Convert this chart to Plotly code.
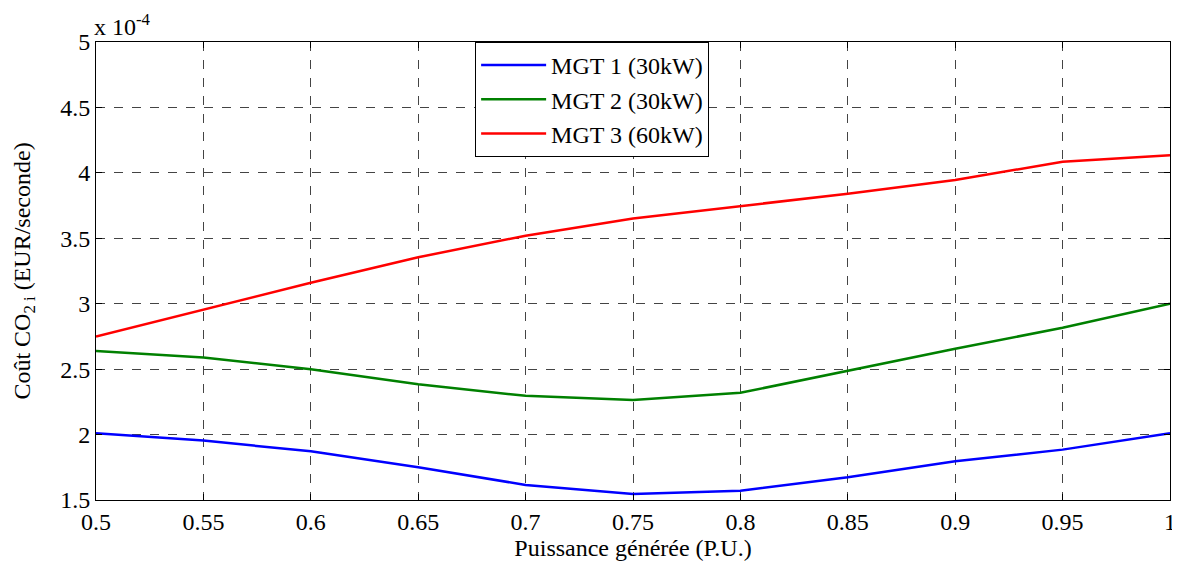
import plotly.graph_objects as go

x_pu = [0.5, 0.55, 0.6, 0.65, 0.7, 0.75, 0.8, 0.85, 0.9, 0.95, 1.0]
# values in units of 1e-4 EUR/s
mgt1 = [2.01, 1.954, 1.872, 1.75, 1.615, 1.546, 1.571, 1.673, 1.796, 1.885, 2.01]
mgt2 = [2.638, 2.589, 2.5, 2.385, 2.296, 2.265, 2.319, 2.485, 2.656, 2.816, 3.0]
mgt3 = [2.75, 2.954, 3.16, 3.355, 3.52, 3.652, 3.745, 3.84, 3.945, 4.085, 4.135]
names = ["MGT 1 (30kW)", "MGT 2 (30kW)", "MGT 3 (60kW)"]
colors = ["#0000FF", "#008000", "#FF0000"]
x_ticks = [0.5, 0.55, 0.6, 0.65, 0.7, 0.75, 0.8, 0.85, 0.9, 0.95, 1.0]
x_ticktext = ["0.5", "0.55", "0.6", "0.65", "0.7", "0.75", "0.8", "0.85", "0.9", "0.95", "1"]
y_ticks = [1.5, 2, 2.5, 3, 3.5, 4, 4.5, 5]
y_ticktext = ["1.5", "2", "2.5", "3", "3.5", "4", "4.5", "5"]

font = "Liberation Serif"
fs = 24
fig = go.Figure()
for ys, nm, c in zip([mgt1, mgt2, mgt3], names, colors):
    fig.add_trace(go.Scatter(x=x_pu, y=ys, mode="lines", name=nm,
                             line=dict(color=c, width=2.5)))

axis_common = dict(showline=True, linecolor="black", linewidth=1, mirror="ticks",
                   ticks="inside", ticklen=6, tickcolor="black", automargin=False,
                   showgrid=True, gridcolor="#444444", griddash="dash", gridwidth=1,
                   zeroline=False, tickfont=dict(family=font, size=fs, color="black"))

fig.update_xaxes(range=[0.5, 1.0], tickvals=x_ticks, ticktext=x_ticktext,
                 title=dict(text="Puissance générée (P.U.)", font=dict(family=font, size=fs, color="black"),
                            standoff=5),
                 **axis_common)
fig.update_yaxes(range=[1.5, 5.0], tickvals=y_ticks, ticktext=y_ticktext,
                 title=dict(text="Coût CO<sub>2 i</sub> (EUR/seconde)",
                            font=dict(family=font, size=fs, color="black"), standoff=22),
                 **axis_common)

fig.add_annotation(xref="paper", yref="paper", x=0.0, y=1.0, xanchor="left", yanchor="bottom",
                   text="x 10<sup>-4</sup>", showarrow=False, yshift=0, xshift=-4,
                   font=dict(family=font, size=24, color="black"))

fig.update_layout(
    width=1172, height=559,
    margin=dict(l=88, r=10, t=34, b=67),
    plot_bgcolor="white", paper_bgcolor="white",
    font=dict(family=font, size=fs, color="black"),
    legend=dict(x=0.353, y=1.0, xanchor="left", yanchor="top",
                bgcolor="white", bordercolor="black", borderwidth=1,
                font=dict(family=font, size=fs, color="black"),
                itemwidth=65, tracegroupgap=0),
)

fig.write_html("out.html")
